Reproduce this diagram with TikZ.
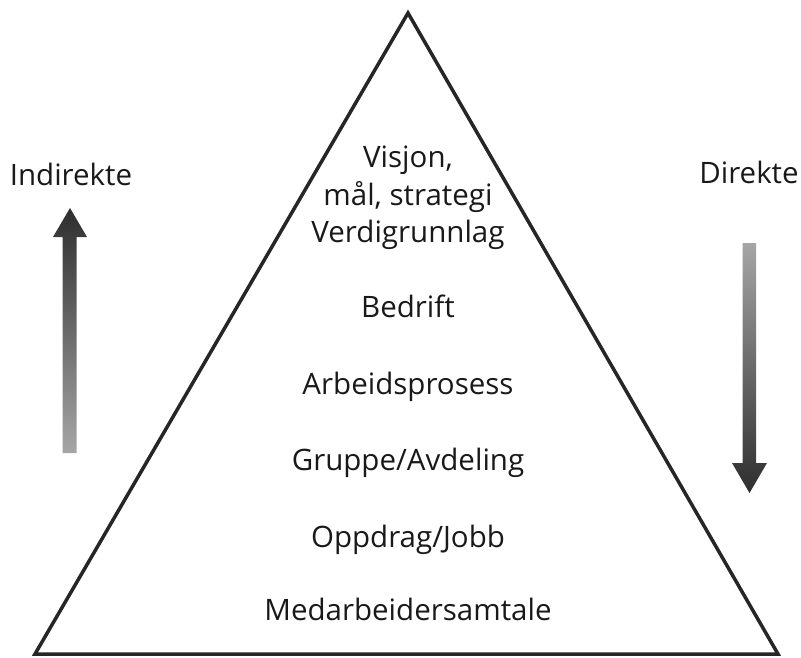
\documentclass[tikz,border=0pt]{standalone}
\usepackage{fontspec}
\setmainfont{Open Sans}
\begin{document}
\begin{tikzpicture}[x=1pt,y=-1pt,
  lbl/.style={anchor=base,inner sep=0pt,font=\fontsize{29.5}{34}\selectfont,text=black!90},
  edge/.style={draw=black!85,line width=3.5pt,line join=miter}]
\useasboundingbox (0,0) rectangle (801,657);
% pyramid
\coordinate (apex) at (408,13);
\coordinate (bl) at (35,654);
\coordinate (br) at (778,654);
\draw[edge] (apex) -- (br) -- (bl) -- cycle;
% texts
\node[lbl] (t1) at (408,167) {Visjon,};
\node[lbl] (t2) at (408,205) {mål, strategi};
\node[lbl] (t3) at (408,242) {Verdigrunnlag};
\node[lbl] (t4) at (408,317) {Bedrift};
\node[lbl] (t5) at (408,394) {Arbeidsprosess};
\node[lbl] (t6) at (408,470) {Gruppe/Avdeling};
\node[lbl] (t7) at (408,547) {Oppdrag/Jobb};
\node[lbl] (t8) at (408,620) {Medarbeidersamtale};
\node[lbl] (ind) at (71,185) {Indirekte};
\node[lbl] (dir) at (749,183) {Direkte};
% left arrow (up)
\shade[top color=black!82, bottom color=black!35]
  (62.5,453) -- (62.5,237) -- (53,237) -- (70,208) -- (87,237) -- (76.5,237) -- (76.5,453) -- cycle;
% right arrow (down)
\shade[top color=black!35, bottom color=black!82]
  (742.5,243) -- (742.5,463) -- (732,463) -- (749.5,493) -- (767,463) -- (756,463) -- (756,243) -- cycle;
\end{tikzpicture}
\end{document}
